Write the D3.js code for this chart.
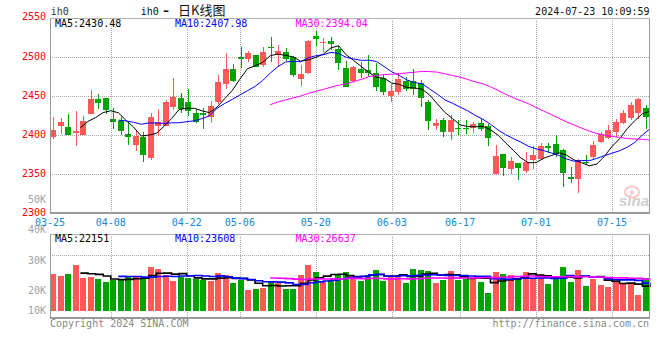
<!DOCTYPE html>
<html><head><meta charset="utf-8">
<script src="https://cdn.jsdelivr.net/npm/d3@7"></script>
<style>
html,body{margin:0;padding:0;background:#fff;}
svg{display:block;}
text{font-family:"DejaVu Sans Mono","Liberation Mono",monospace;font-size:10px;}
</style></head><body>
<svg id="chart" width="660" height="360"></svg>
<script>
// ---------------- data ----------------
const dates = ["03-25","03-26","03-27","03-28","03-29",
"04-01","04-02","04-03","04-08","04-09","04-10","04-11","04-12","04-15","04-16","04-17","04-18","04-19","04-22","04-23","04-24","04-25","04-26","04-29","04-30",
"05-06","05-07","05-08","05-09","05-10","05-13","05-14","05-15","05-16","05-17","05-20","05-21","05-22","05-23","05-24","05-27","05-28","05-29","05-30","05-31",
"06-03","06-04","06-05","06-06","06-07","06-11","06-12","06-13","06-14","06-17","06-18","06-19","06-20","06-21","06-24","06-25","06-26","06-27","06-28",
"07-01","07-02","07-03","07-04","07-05","07-08","07-09","07-10","07-11","07-12","07-15","07-16","07-17","07-18","07-19","07-22"];
const open = [2397.4,2412.4,2410.7,2403.4,2400.4,2427.8,2446.1,2447.9,2420.9,2418.4,2401.3,2387.6,2398.3,2370.9,2412.4,2412.0,2436.7,2447.4,2443.2,2428.2,
2428.2,2423.1,2443.2,2466.2,2485.0,2500.0,2498.3,2502.6,2489.7,2513.7,2502.6,2506.4,2500.0,2472.6,2479.5,2527.4,2518.4,2520.9,2510.7,2486.3,
2469.7,2484.6,2483.8,2479.5,2473.1,2450.4,2456.0,2469.7,2469.7,2466.7,2443.2,2412.4,2419.6,2403.8,2409.8,2409.8,2409.0,2415.4,2412.0,2350.4,
2376.1,2356.4,2364.1,2354.3,2368.4,2369.6,2386.3,2388.9,2381.2,2347.0,2343.6,2366.2,2372.6,2391.9,2396.1,2403.8,2416.2,2422.6,2428.2,2434.6];
const high = [2423.5,2422.6,2427.8,2431.6,2424.8,2458.1,2453.0,2447.9,2434.6,2423.1,2415.4,2406.0,2403.8,2428.2,2433.8,2445.3,2473.5,2454.7,2459.4,2434.2,
2434.6,2444.0,2477.3,2506.0,2491.5,2512.8,2508.1,2502.6,2513.7,2526.5,2515.8,2512.4,2501.7,2490.2,2522.2,2533.8,2524.4,2526.5,2515.0,2495.3,
2489.3,2493.6,2503.0,2493.2,2477.3,2465.4,2479.5,2475.2,2484.6,2470.9,2445.3,2420.5,2421.8,2426.1,2419.6,2419.6,2417.5,2421.8,2414.5,2387.6,
2376.1,2372.6,2364.9,2379.0,2386.3,2390.6,2389.7,2400.4,2382.0,2359.8,2369.2,2374.8,2392.7,2404.7,2413.2,2420.5,2432.5,2443.2,2447.4,2438.9];
const low = [2395.3,2401.3,2400.0,2386.7,2400.0,2427.0,2434.2,2426.9,2408.5,2400.4,2388.0,2380.3,2366.2,2368.4,2399.6,2411.6,2432.0,2429.1,2424.8,2415.4,
2408.1,2415.4,2440.2,2459.4,2468.8,2486.8,2493.6,2487.2,2487.2,2493.6,2487.2,2494.9,2475.2,2463.7,2478.2,2514.5,2506.4,2509.4,2483.8,2461.5,
2466.7,2473.1,2475.2,2456.8,2451.7,2443.2,2451.7,2457.3,2451.7,2436.7,2406.8,2406.8,2397.4,2394.0,2400.4,2401.3,2402.6,2406.0,2386.7,2350.0,
2348.3,2350.0,2342.7,2352.1,2356.4,2369.2,2376.9,2372.6,2334.2,2338.4,2325.6,2361.9,2368.4,2389.7,2394.9,2398.3,2414.5,2419.6,2420.5,2408.1];
const close = [2406.8,2417.1,2400.4,2406.0,2418.8,2446.6,2441.9,2432.5,2417.5,2406.0,2398.3,2399.1,2374.8,2423.1,2417.1,2442.7,2449.1,2433.3,2430.8,2417.5,
2426.1,2437.6,2468.8,2485.0,2469.7,2498.3,2505.1,2488.0,2506.4,2512.8,2508.1,2497.4,2477.8,2479.1,2520.9,2523.9,2519.2,2517.1,2493.2,2462.4,
2487.2,2480.3,2479.5,2462.4,2456.0,2456.8,2471.8,2459.4,2459.4,2448.3,2418.8,2415.4,2404.7,2419.6,2408.1,2408.1,2414.1,2408.1,2397.0,2373.5,
2358.5,2367.1,2358.5,2366.2,2374.8,2386.3,2384.2,2376.1,2352.1,2343.6,2368.4,2364.1,2387.6,2401.7,2406.8,2417.5,2428.6,2438.9,2446.6,2423.1];
const volume = [31100,29400,31100,38600,27800,28600,26900,24400,25600,25600,29400,29400,26400,36900,35300,30000,25300,28600,27800,26700,
25800,25000,31900,30000,23600,25800,17800,18600,19400,25000,23600,18600,18600,30000,38600,32800,25300,25600,31100,32800,
29400,25300,30300,34400,25300,30300,30300,23600,35300,34400,33600,23600,25600,33600,26100,26400,26400,24400,15000,32800,
31100,30300,27800,32800,27800,27800,22800,26400,36900,24400,34400,21100,26900,21900,20300,24400,22800,22800,13600,27800];
const xTickLabels = ["03-25","04-08","04-22","05-06","05-20","06-03","06-17","07-01","07-15"];
const priceTicks = [2300,2350,2400,2450,2500,2550];
const priceGridTicks = [2350,2400,2450,2500];
const volTickLabels = ["50K","40K","30K","20K","10K"];
const volTickValues = [50,40,30,20,10];
const maNames = ["MA5","MA10","MA30"];
const maPeriods = [5,10,30];
const priceMALegend = ["2430.48","2407.98","2394.04"];
const volMALegend = ["22151","23608","26637"];
const symbol = "ih0";
const titleText = "日K线图";
const stamp = "2024-07-23 10:09:59";

// ---------------- layout / style ----------------
const L = 50, R = 650, mainTop = 18.3, mainBot = 213.3, volTop = 234.3, volBot = 317.5, volBase = 311;
const UP = "#ff5858", DOWN = "#00a300";
const maColors = ["#000000","#0000ff","#ff00ff"];
const legendX = [55, 175, 295.5];
const gridColor = "#aaaaaa", frameColor = "#999999";

const svg = d3.select("#chart");
const xBand = d3.scaleBand().domain(dates).range([L, 648.5]).paddingInner(0.2).paddingOuter(0).align(0);
const xPoint = d3.scalePoint().domain(dates).range([L, R]);
const yPrice = d3.scaleLinear().domain([2300, 2550]).range([mainBot, mainTop]);
const yVol = d3.scaleLinear().domain([0, 64000]).range([volBase, volTop]);
const yVolLabel = d3.scaleLinear().domain([10, 50]).range([323.7, 203.3]);

function movingAvg(arr, p) {
  return arr.map((v, i) => i < p - 1 ? null : d3.mean(arr.slice(i - p + 1, i + 1)));
}
const idx = d3.range(dates.length);

// ---------------- grid ----------------
const grid = svg.append("g").attr("stroke", gridColor).attr("stroke-dasharray", "1,1").attr("shape-rendering", "crispEdges");
priceGridTicks.forEach(t => {
  const y = Math.round(yPrice(t)) + 0.5;
  grid.append("line").attr("x1", L).attr("x2", R).attr("y1", y).attr("y2", y);
});
xTickLabels.slice(1).forEach(t => {
  const x = Math.round(xPoint(t)) + 0.5;
  grid.append("line").attr("x1", x).attr("x2", x).attr("y1", mainTop).attr("y2", mainBot);
  grid.append("line").attr("x1", x).attr("x2", x).attr("y1", volTop).attr("y2", volBot);
});
[0.25, 0.75].forEach(f => {
  const y = Math.round(volTop + (volBot - volTop) * f) + 0.5;
  grid.append("line").attr("x1", L).attr("x2", R).attr("y1", y).attr("y2", y);
});

// ---------------- candles ----------------
const cg = svg.append("g").attr("shape-rendering", "crispEdges");
idx.forEach(i => {
  const d = dates[i];
  const up = close[i] >= open[i];
  const col = up ? UP : DOWN;
  const x = xBand(d), w = xBand.bandwidth();
  cg.append("line").attr("x1", x + w / 2 + 0.5).attr("x2", x + w / 2 + 0.5)
    .attr("y1", yPrice(high[i])).attr("y2", yPrice(low[i])).attr("stroke", col);
  const yt = yPrice(Math.max(open[i], close[i])), yb = yPrice(Math.min(open[i], close[i]));
  cg.append("rect").attr("x", x).attr("width", w).attr("y", yt).attr("height", Math.max(1, yb - yt)).attr("fill", col);
});

// ---------------- price MA ----------------
maPeriods.forEach((p, k) => {
  const ma = movingAvg(close, p);
  const line = d3.line().defined(i => ma[i] !== null).x(i => xPoint(dates[i])).y(i => yPrice(ma[i]));
  svg.append("path").attr("d", line(idx)).attr("fill", "none").attr("stroke", maColors[k]).attr("stroke-width", 1);
});

// ---------------- volume bars ----------------
const vg = svg.append("g").attr("shape-rendering", "crispEdges");
idx.forEach(i => {
  const d = dates[i];
  const col = close[i] >= open[i] ? UP : DOWN;
  vg.append("rect").attr("x", xBand(d)).attr("width", xBand.bandwidth())
    .attr("y", yVol(volume[i])).attr("height", volBase - yVol(volume[i])).attr("fill", col);
});
maPeriods.forEach((p, k) => {
  const ma = movingAvg(volume, p);
  const line = d3.line().defined(i => ma[i] !== null).x(i => xPoint(dates[i])).y(i => yVol(ma[i])).curve(d3.curveStepAfter);
  svg.append("path").attr("d", line(idx)).attr("fill", "none").attr("stroke", maColors[k]).attr("stroke-width", 1.6);
});

// ---------------- frames ----------------
const fg = svg.append("g").attr("stroke", frameColor).attr("fill", "none").attr("shape-rendering", "crispEdges");
[[mainTop, mainBot], [volTop, volBot]].forEach(([t, b]) => {
  fg.append("line").attr("x1", L + 0.5).attr("x2", L + 0.5).attr("y1", t).attr("y2", b);
  fg.append("line").attr("x1", R - 0.5).attr("x2", R - 0.5).attr("y1", t).attr("y2", b);
  fg.append("line").attr("x1", L).attr("x2", R).attr("y1", Math.round(t) + 0.5).attr("y2", Math.round(t) + 0.5).attr("stroke", "#b0b0b0");
  fg.append("line").attr("x1", L).attr("x2", R).attr("y1", Math.round(b)).attr("y2", Math.round(b)).attr("stroke-width", 2);
});

// ---------------- axis labels ----------------
priceTicks.forEach(t => {
  svg.append("text").attr("x", 46).attr("y", yPrice(t) + (t === 2550 ? 1.2 : 2.3)).attr("text-anchor", "end").attr("fill", "#ff0000").text(t);
});
volTickLabels.forEach((lab, k) => {
  svg.append("text").attr("x", 46).attr("y", Math.min(yVolLabel(volTickValues[k]), 314.3)).attr("text-anchor", "end").attr("fill", "#a0a0a0").text(lab);
});
xTickLabels.forEach(t => {
  svg.append("text").attr("x", xPoint(t)).attr("y", 225.5).attr("text-anchor", "middle").attr("fill", "#1088d8").text(t);
});

// ---------------- legends ----------------
maNames.forEach((n, k) => {
  svg.append("text").attr("x", legendX[k]).attr("y", 27.3).attr("fill", maColors[k]).text(n + ":" + priceMALegend[k]);
  svg.append("text").attr("x", legendX[k]).attr("y", 241.7).attr("fill", maColors[k]).text(n + ":" + volMALegend[k]);
});

// ---------------- header / footer ----------------
svg.append("text").attr("x", 50.7).attr("y", 15.3).attr("fill", "#333").text(symbol);
const title = svg.append("text").attr("y", 15.3).attr("fill", "#111");
title.append("tspan").attr("x", 140.7).text(symbol);
title.append("tspan").attr("x", 163).style("font-family", "'DejaVu Sans'").style("font-size", "12px").style("font-weight", "bold").text("–");
title.append("tspan").attr("x", 178).style("font-family", "'Noto Sans CJK SC'").style("font-size", "13px").text(titleText);
svg.append("text").attr("x", 649.5).attr("y", 15.3).attr("text-anchor", "end").attr("fill", "#111").text(stamp);
svg.append("text").attr("x", 50).attr("y", 327).attr("fill", "#888").text("Copyright 2024 SINA.COM");
svg.append("text").attr("x", 649).attr("y", 327).attr("text-anchor", "end").attr("fill", "#888").text("http://finance.sina.com.cn");

// sina watermark
const wm = svg.append("g").attr("opacity", 0.55);
wm.append("ellipse").attr("cx", 632).attr("cy", 192).attr("rx", 7).attr("ry", 5.5).attr("fill", "none").attr("stroke", "#f29a9a").attr("stroke-width", 2);
wm.append("circle").attr("cx", 632).attr("cy", 192.5).attr("r", 2).attr("fill", "#f29a9a");
wm.append("text").attr("x", 619).attr("y", 206).style("font-family", "'Liberation Sans',Arial,sans-serif").style("font-size", "15px")
  .style("font-weight", "bold").style("font-style", "italic").attr("fill", "#a8a8a8").text("sina");
</script>
</body></html>
